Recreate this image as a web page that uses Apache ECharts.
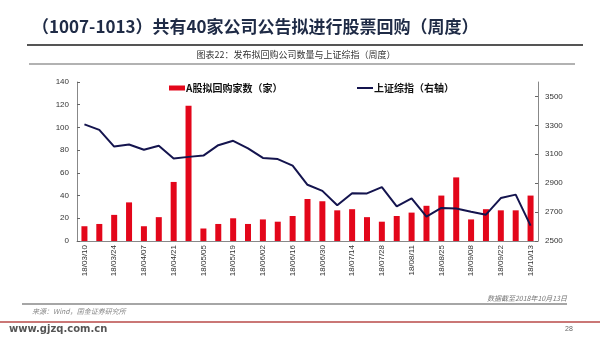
<!DOCTYPE html>
<html>
<head>
<meta charset="utf-8">
<script src="https://cdn.jsdelivr.net/npm/echarts@6/dist/echarts.min.js"></script>
<style>
html,body{margin:0;padding:0;background:#fff;}
#chart{width:600px;height:338px;}
</style>
</head>
<body>
<div id="chart"></div>
<script>
var categories = ["18/03/10","18/03/17","18/03/24","18/03/31","18/04/07","18/04/14","18/04/21","18/04/28",
  "18/05/05","18/05/12","18/05/19","18/05/26","18/06/02","18/06/09","18/06/16","18/06/23","18/06/30",
  "18/07/07","18/07/14","18/07/21","18/07/28","18/08/04","18/08/11","18/08/18","18/08/25","18/09/01",
  "18/09/08","18/09/15","18/09/22","18/09/29","18/10/13"];
var buybackCounts = [13,15,23,34,13,21,52,119,11,15,20,15,19,17,22,37,35,27,28,21,17,22,25,31,40,56,19,28,27,27,40];
var shIndex = [3307,3269,3153,3168,3131,3159,3071,3082,3091,3163,3193,3141,3075,3067,3022,2889,2847,
  2747,2831,2829,2873,2740,2795,2669,2729,2725,2702,2682,2797,2821,2606];
var leftTicks = {min:0,max:140,interval:20};
var rightTicks = {min:2500,max:3600,interval:200};

var chart = echarts.init(document.getElementById('chart'));
var cjk = '"Noto Sans CJK SC", sans-serif';
chart.setOption({
  backgroundColor:'#fff',
  animation:false,
  grid:{left:77,right:62,top:82,bottom:97},
  legend:[
    {data:['A股拟回购家数（家）'],left:164,top:78,itemWidth:16,itemHeight:5,icon:'rect',
     textStyle:{fontFamily:cjk,fontSize:10,fontWeight:'bold',color:'#111',padding:[0,0,0,-4]}},
    {data:['上证综指（右轴）'],left:352,top:78,itemWidth:16,itemHeight:2,icon:'rect',
     textStyle:{fontFamily:cjk,fontSize:10,fontWeight:'bold',color:'#111',padding:[0,0,0,-4]}}
  ],
  xAxis:{type:'category',data:categories,
    axisLine:{lineStyle:{color:'#888',width:1}},
    axisTick:{inside:true,length:3,interval:0,lineStyle:{color:'#666'}},
    axisLabel:{interval:1,rotate:90,fontSize:8,color:'#333',fontFamily:'Arial, "Liberation Sans"',margin:4}
  },
  yAxis:[
    {type:'value',min:leftTicks.min,max:leftTicks.max,interval:leftTicks.interval,
     axisLine:{show:true,lineStyle:{color:'#888'}},
     axisTick:{show:true,inside:true,length:3,lineStyle:{color:'#666'}},
     axisLabel:{fontSize:8,color:'#333',margin:8,fontFamily:'Arial, "Liberation Sans"'},
     splitLine:{show:false}},
    {type:'value',min:rightTicks.min,max:rightTicks.max,interval:rightTicks.interval,position:'right',
     axisLine:{show:true,lineStyle:{color:'#888'}},
     axisTick:{show:true,inside:true,length:3,lineStyle:{color:'#666'}},
     axisLabel:{fontSize:8,color:'#333',margin:7,showMaxLabel:false,fontFamily:'Arial, "Liberation Sans"',
       formatter:function(v){return String(v);}},
     splitLine:{show:false}}
  ],
  series:[
    {name:'A股拟回购家数（家）',type:'bar',data:buybackCounts,barWidth:6,
     itemStyle:{color:'#e3061a'}},
    {name:'上证综指（右轴）',type:'line',yAxisIndex:1,data:shIndex,symbol:'none',
     lineStyle:{color:'#14144e',width:2},itemStyle:{color:'#14144e'}}
  ],
  graphic:[
    {type:'text',left:32,top:18,style:{text:'（1007-1013）共有40家公司公告拟进行股票回购（周度）',
      font:'bold 17px "Noto Sans CJK SC", sans-serif',fill:'#1f2b46'}},
    {type:'line',shape:{x1:27,y1:45,x2:583,y2:45},style:{stroke:'#555',lineWidth:2}},
    {type:'text',x:296,y:55,style:{text:'图表22：发布拟回购公司数量与上证综指（周度）',
      font:'9px "Noto Sans CJK SC", sans-serif',fill:'#333',textAlign:'center',textVerticalAlign:'middle'}},
    {type:'line',shape:{x1:29,y1:64,x2:575,y2:64},style:{stroke:'#999',lineWidth:1.5}},
    {type:'text',x:567,y:298,style:{text:'数据截至2018年10月13日',
      font:'italic 7px "Noto Sans CJK SC", sans-serif',fill:'#777',textAlign:'right',textVerticalAlign:'middle'}},
    {type:'line',shape:{x1:22,y1:304,x2:567,y2:304},style:{stroke:'#888',lineWidth:1.5}},
    {type:'text',x:32,y:311,style:{text:'来源：Wind，国金证券研究所',
      font:'italic 7px "Noto Sans CJK SC", sans-serif',fill:'#888',textAlign:'left',textVerticalAlign:'middle'}},
    {type:'line',shape:{x1:0,y1:322,x2:600,y2:322},style:{stroke:'#b94a48',lineWidth:1.5}},
    {type:'text',x:9,y:329,style:{text:'www.gjzq.com.cn',
      font:'bold 10px "DejaVu Sans", sans-serif',fill:'#555',textAlign:'left',textVerticalAlign:'middle'}},
    {type:'text',x:569,y:329,style:{text:'28',
      font:'7px Arial, sans-serif',fill:'#666',textAlign:'center',textVerticalAlign:'middle'}}
  ]
});
</script>
</body>
</html>
